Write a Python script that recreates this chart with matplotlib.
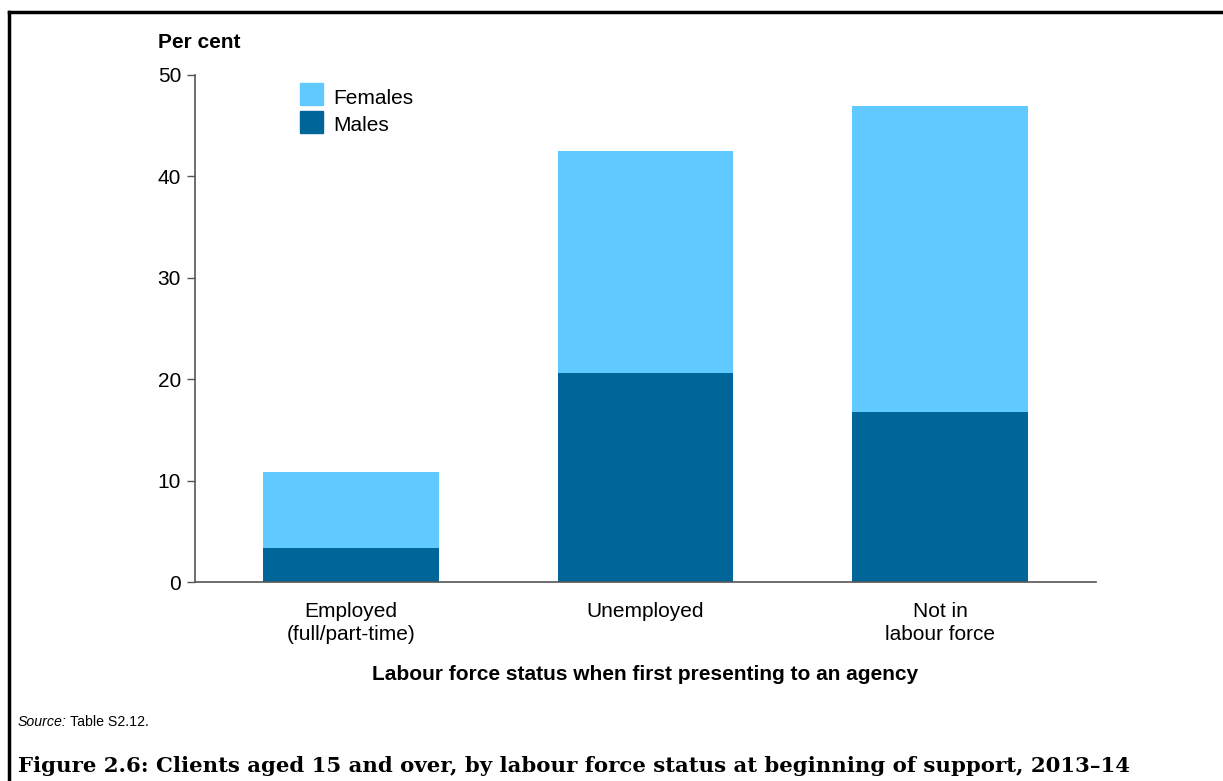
import matplotlib
matplotlib.use("Agg")
import matplotlib.pyplot as plt
from matplotlib.lines import Line2D
from matplotlib.patches import Rectangle

categories = ["Employed\n(full/part-time)", "Unemployed", "Not in\nlabour force"]
males = [3.35, 20.65, 16.8]
females_total = [10.87, 42.5, 46.9]
females = [t - m for t, m in zip(females_total, males)]
yticks = [0, 10, 20, 30, 40, 50]

C_F = "#60C9FF"
C_M = "#006699"

plt.rcParams['font.family'] = ['Liberation Sans', 'DejaVu Sans']

W, H = 1223, 781
fig = plt.figure(figsize=(W / 100, H / 100), dpi=100)

def fx(px):
    return px / W

def fy(py):
    return 1 - py / H

FS = 15

ax = fig.add_axes([fx(195), fy(582.3), fx(1096) - fx(195), fy(74.8) - fy(582.3)])
x = list(range(len(categories)))
ax.bar(x, males, width=0.595, color=C_M, label="Males")
ax.bar(x, females, width=0.595, bottom=males, color=C_F, label="Females")
ax.set_xlim(-0.53, 2.53)
ax.set_ylim(0, 50)
ax.set_yticks(yticks)
ax.set_xticks(x)
ax.set_xticklabels(categories, fontsize=FS, linespacing=1.3)
ax.tick_params(axis='x', length=0, pad=14)
ax.tick_params(axis='y', length=6, width=1, color="#555555", labelsize=FS, pad=4)
for s in ["top", "right"]:
    ax.spines[s].set_visible(False)
for s in ["left", "bottom"]:
    ax.spines[s].set_color("#555555")
    ax.spines[s].set_linewidth(1.2)

fig.text(fx(645.5), fy(674), "Labour force status when first presenting to an agency",
         fontsize=FS, fontweight="bold", va="center", ha="center")

fig.text(fx(158), fy(43), "Per cent", fontsize=FS, fontweight="bold", va="center", ha="left")

# legend
for (py, col, lab) in [(94, C_F, "Females"), (121.5, C_M, "Males")]:
    fig.patches.append(Rectangle((fx(300), fy(py + 11)), fx(323) - fx(300), fy(py - 11) - fy(py + 11),
                                 transform=fig.transFigure, color=col))
    fig.text(fx(333), fy(py + 4), lab, fontsize=FS, va="center", ha="left")

# source
t1 = fig.text(fx(18), fy(722), "Source:", fontsize=10.2, style="italic", va="center", ha="left")
fig.canvas.draw()
bb = t1.get_window_extent()
fig.text(bb.x1 / W + fx(3), fy(722), "Table S2.12.", fontsize=10.2, va="center", ha="left")

# caption
fig.text(fx(18), fy(766), "Figure 2.6: Clients aged 15 and over, by labour force status at beginning of support, 2013\u201314",
         fontsize=15.3, fontweight="bold", va="center", ha="left",
         family=["DejaVu Serif"])

# page border
fig.add_artist(Line2D([fx(9), 1.0], [fy(12), fy(12)], transform=fig.transFigure, color="black", lw=2.5))
fig.add_artist(Line2D([fx(9), fx(9)], [fy(12), 0.0], transform=fig.transFigure, color="black", lw=2.5))

fig.savefig("out.png", dpi=100)
